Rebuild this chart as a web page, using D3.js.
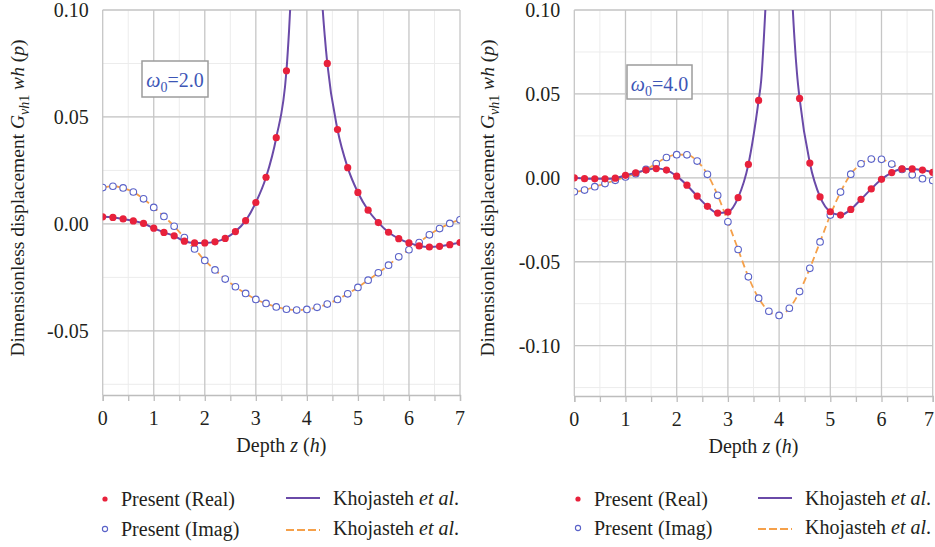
<!DOCTYPE html>
<html>
<head>
<meta charset="utf-8">
<script src="https://cdn.jsdelivr.net/npm/d3@7"></script>
<style>
  body { margin: 0; background: #fff; }
  #chart, #chart text { font-family: 'Liberation Serif', 'DejaVu Serif', 'Times New Roman', Times, serif; }
  #chart text { fill: #231f20; }
</style>
</head>
<body>
<svg id="chart" width="935" height="547" font-family="Liberation Serif, DejaVu Serif, serif"></svg>
<script>
// depth samples of the "Present" points
const depthZ = [0, 0.2, 0.4, 0.6, 0.8, 1.0, 1.2, 1.4, 1.6, 1.8, 2.0, 2.2, 2.4, 2.6, 2.8, 3.0, 3.2, 3.4,
  3.6, 3.8, 4.0, 4.2, 4.4, 4.6, 4.8, 5.0, 5.2, 5.4, 5.6, 5.8, 6.0, 6.2, 6.4, 6.6, 6.8, 7.0];

// omega0 = 2.0
const real2 = [0.0033, 0.0030, 0.0023, 0.0014, 0.0002, -0.0020, -0.0040, -0.0056, -0.0081, -0.0089, -0.0089,
  -0.0084, -0.0068, -0.0036, 0.0015, 0.0100, 0.0218, 0.0403, 0.0716, null, null, null, 0.0750, 0.0441,
  0.0263, 0.0147, 0.0064, 0.0006, -0.0039, -0.0069, -0.0089, -0.0103, -0.0108, -0.0105, -0.0097, -0.0087];
const imag2 = [0.0170, 0.0176, 0.0168, 0.0149, 0.0117, 0.0077, 0.0035, -0.0011, -0.0064, -0.0117, -0.0171,
  -0.0215, -0.0258, -0.0294, -0.0325, -0.0353, -0.0372, -0.0388, -0.0399, -0.0403, -0.0400, -0.0390,
  -0.0375, -0.0353, -0.0327, -0.0297, -0.0263, -0.0229, -0.0193, -0.0154, -0.0121, -0.0087, -0.0051,
  -0.0022, 0.0002, 0.0019];
// extra points of the Khojasteh real curve near the singular peak
const peakZ2 = [3.65, 3.7, 3.75, 3.8, 4.2, 4.25, 4.3, 4.35];
const peakReal2 = [0.090, 0.113, 0.140, 0.175, 0.160, 0.128, 0.104, 0.088];

// omega0 = 4.0
const real4 = [0.0000, -0.0005, -0.0006, -0.0006, -0.0002, 0.0015, 0.0030, 0.0046, 0.0055, 0.0046, 0.0010,
  -0.0044, -0.0109, -0.0170, -0.0210, -0.0204, -0.0118, 0.0080, 0.0461, null, null, null, 0.0473, 0.0088,
  -0.0114, -0.0202, -0.0222, -0.0188, -0.0128, -0.0066, -0.0009, 0.0031, 0.0053, 0.0053, 0.0046, 0.0033];
const imag4 = [-0.0083, -0.0073, -0.0053, -0.0034, -0.0015, 0.0005, 0.0025, 0.0050, 0.0085, 0.0121, 0.0138,
  0.0137, 0.0100, 0.0021, -0.0104, -0.0262, -0.0427, -0.0590, -0.0717, -0.0795, -0.0820, -0.0777,
  -0.0678, -0.0539, -0.0382, -0.0222, -0.0085, 0.0022, 0.0084, 0.0112, 0.0110, 0.0082, 0.0050,
  0.0018, -0.0005, -0.0016];
const peakZ4 = [3.65, 3.7, 3.75, 3.8, 4.2, 4.25, 4.3, 4.35];
const peakReal4 = [0.058, 0.082, 0.113, 0.160, 0.160, 0.112, 0.083, 0.062];

const xTicks = [0, 1, 2, 3, 4, 5, 6, 7];
const yTicks2 = [-0.05, 0.00, 0.05, 0.10];
const yTicks4 = [-0.10, -0.05, 0.00, 0.05, 0.10];
const legendLabels = ["Present (Real)", "Present (Imag)", "Khojasteh", "Khojasteh"];

const C_RED = "#e8213b", C_BLUE = "#5a62c8", C_PURPLE = "#6a4aa8", C_ORANGE = "#f5a04a";
const SERIF = "Liberation Serif, DejaVu Serif, serif";

const svg = d3.select("#chart");

function drawPanel(opt) {
  const x = d3.scaleLinear().domain([0, 7]).range([opt.left, opt.right]);
  const y = d3.scaleLinear().domain(opt.yDomain).range([opt.bottom, opt.top]);
  const g = svg.append("g").attr("font-family", SERIF);

  const clipId = "clip" + opt.id;
  svg.append("clipPath").attr("id", clipId).append("rect")
    .attr("x", opt.left).attr("y", opt.top)
    .attr("width", opt.right - opt.left).attr("height", opt.bottom - opt.top);

  // minor grid
  const xMinor = d3.range(0.5, 7, 1);
  const yMinor = d3.range(Math.ceil(opt.yDomain[0] / 0.025) * 0.025, opt.yDomain[1] + 1e-9, 0.025);
  g.append("g").selectAll("line").data(xMinor).join("line")
    .attr("x1", d => x(d)).attr("x2", d => x(d)).attr("y1", opt.top).attr("y2", opt.bottom)
    .attr("stroke", "#ececec").attr("stroke-width", 1);
  g.append("g").selectAll("line").data(yMinor).join("line")
    .attr("x1", opt.left).attr("x2", opt.right).attr("y1", d => y(d)).attr("y2", d => y(d))
    .attr("stroke", "#ececec").attr("stroke-width", 1);

  // major grid
  g.append("g").selectAll("line").data(xTicks).join("line")
    .attr("x1", d => x(d)).attr("x2", d => x(d)).attr("y1", opt.top).attr("y2", opt.bottom)
    .attr("stroke", "#c6c6c6").attr("stroke-width", 1.3);
  g.append("g").selectAll("line").data(opt.yTicks).join("line")
    .attr("x1", opt.left).attr("x2", opt.right).attr("y1", d => y(d)).attr("y2", d => y(d))
    .attr("stroke", "#c6c6c6").attr("stroke-width", 1.3);

  // bottom axis
  const xAxis = d3.axisBottom(x).tickValues(d3.range(0, 7.01, 0.5)).tickSize(6).tickFormat("");
  const ax = g.append("g").attr("transform", `translate(0,${opt.bottom})`).call(xAxis);
  ax.selectAll("path, line").attr("stroke", "#bdbdbd").attr("stroke-width", 1.3);

  g.append("g").selectAll("text").data(xTicks).join("text")
    .attr("x", d => Math.min(x(d), 929)).attr("y", opt.bottom + 30)
    .attr("text-anchor", "middle").attr("font-size", 20).text(d => d);

  g.append("g").selectAll("text").data(opt.yTicks).join("text")
    .attr("x", opt.left - 14).attr("y", d => y(d) + 7)
    .attr("text-anchor", "end").attr("font-size", 20).text(d => d.toFixed(2));

  g.append("text").attr("x", (opt.left + opt.right) / 2).attr("y", opt.bottom + 57)
    .attr("text-anchor", "middle").attr("font-size", 20)
    .call(t => {
      t.append("tspan").text("Depth ");
      t.append("tspan").attr("font-style", "italic").text("z");
      t.append("tspan").text(" (");
      t.append("tspan").attr("font-style", "italic").text("h");
      t.append("tspan").text(")");
    });

  // y label
  g.append("text")
    .attr("transform", `translate(${opt.labelX},${opt.labelY}) rotate(-90)`)
    .attr("text-anchor", "middle").attr("font-size", 19.5)
    .call(t => {
      t.append("tspan").text("Dimensionless displacement ");
      t.append("tspan").attr("font-style", "italic").text("G");
      t.append("tspan").attr("font-style", "italic").attr("font-size", 14).attr("dy", 5).text("vh");
      t.append("tspan").attr("font-size", 14).text("1");
      t.append("tspan").attr("dy", -5).text(" ");
      t.append("tspan").attr("font-style", "italic").text("wh");
      t.append("tspan").text(" (");
      t.append("tspan").attr("font-style", "italic").text("p");
      t.append("tspan").text(")");
    });

  // data
  const imagPts = depthZ.map((z, i) => [z, opt.imag[i]]);
  const realPts = depthZ.map((z, i) => [z, opt.real[i]]).filter(d => d[1] !== null);
  const realLine = realPts.concat(opt.peakZ.map((z, i) => [z, opt.peakReal[i]]))
    .sort((a, b) => a[0] - b[0]);

  const line = d3.line().x(d => x(d[0])).y(d => y(d[1])).curve(d3.curveMonotoneX);
  const plot = g.append("g").attr("clip-path", `url(#${clipId})`);

  plot.append("path").datum(imagPts).attr("d", line)
    .attr("fill", "none").attr("stroke", C_ORANGE).attr("stroke-width", 1.8)
    .attr("stroke-dasharray", "7,4");
  plot.append("path").datum(realLine).attr("d", line)
    .attr("fill", "none").attr("stroke", C_PURPLE).attr("stroke-width", 2);

  plot.append("g").selectAll("circle").data(imagPts).join("circle")
    .attr("cx", d => x(d[0])).attr("cy", d => y(d[1])).attr("r", 3.3)
    .attr("fill", "white").attr("stroke", C_BLUE).attr("stroke-width", 1.1);
  plot.append("g").selectAll("circle").data(realPts).join("circle")
    .attr("cx", d => x(d[0])).attr("cy", d => y(d[1])).attr("r", 3.6)
    .attr("fill", C_RED);

  // omega box
  const b = opt.box;
  g.append("rect").attr("x", b.x).attr("y", b.y).attr("width", b.w).attr("height", b.h)
    .attr("fill", "white").attr("stroke", "#9c9c9c").attr("stroke-width", 1.5);
  g.append("text").attr("x", b.x + b.w / 2).attr("y", b.y + 26)
    .attr("text-anchor", "middle").attr("font-size", 20)
    .style("fill", "#3d56b6")
    .call(t => {
      t.append("tspan").attr("font-style", "italic").text("ω");
      t.append("tspan").attr("font-size", 14).attr("dy", 5).text("0");
      t.append("tspan").attr("dy", -5).text("=" + opt.omega);
    });

  // legend
  const L = opt.legend;
  const lg = g.append("g").attr("font-size", 20);
  lg.append("circle").attr("cx", L.x).attr("cy", L.y1).attr("r", 2.6).attr("fill", C_RED);
  lg.append("circle").attr("cx", L.x).attr("cy", L.y2).attr("r", 2.6)
    .attr("fill", "white").attr("stroke", C_BLUE).attr("stroke-width", 1.1);
  lg.append("text").attr("x", L.x + 16).attr("y", L.y1 + 7).text(legendLabels[0]);
  lg.append("text").attr("x", L.x + 16).attr("y", L.y2 + 7).text(legendLabels[1]);
  lg.append("line").attr("x1", L.lx).attr("x2", L.lx + 34).attr("y1", L.y1 - 1).attr("y2", L.y1 - 1)
    .attr("stroke", C_PURPLE).attr("stroke-width", 2);
  lg.append("line").attr("x1", L.lx).attr("x2", L.lx + 34).attr("y1", L.y2 + 1).attr("y2", L.y2 + 1)
    .attr("stroke", C_ORANGE).attr("stroke-width", 2).attr("stroke-dasharray", "8,3");
  [L.y1, L.y2].forEach((yy, i) => {
    lg.append("text").attr("x", L.lx + 47).attr("y", yy + 6)
      .call(t => {
        t.append("tspan").text(legendLabels[2 + i] + " ");
        t.append("tspan").attr("font-style", "italic").text("et al");
        t.append("tspan").text(".");
      });
  });
}

drawPanel({
  id: 1, left: 102.7, right: 460, top: 10, bottom: 395, yDomain: [-0.08, 0.10], yTicks: yTicks2,
  real: real2, imag: imag2, peakZ: peakZ2, peakReal: peakReal2, omega: "2.0",
  labelX: 24, labelY: 198,
  box: { x: 142, y: 61, w: 66, h: 36 },
  legend: { x: 105, y1: 499, y2: 529, lx: 286 }
});

drawPanel({
  id: 2, left: 574.3, right: 932.7, top: 10, bottom: 396, yDomain: [-0.13, 0.10], yTicks: yTicks4,
  real: real4, imag: imag4, peakZ: peakZ4, peakReal: peakReal4, omega: "4.0",
  labelX: 494, labelY: 198,
  box: { x: 627, y: 65, w: 65, h: 34 },
  legend: { x: 578, y1: 499, y2: 528, lx: 758 }
});
</script>
</body>
</html>
